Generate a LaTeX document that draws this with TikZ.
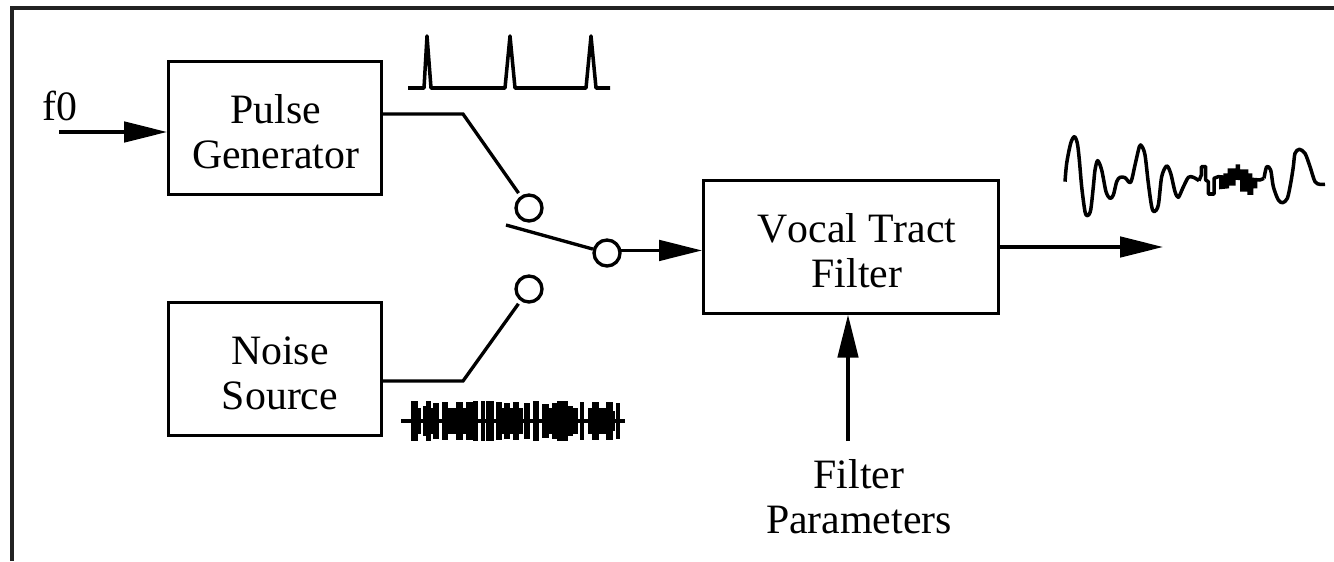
\documentclass[tikz,border=0pt]{standalone}
\usepackage{fontspec}
\setmainfont[Kerning=Off]{Liberation Serif}
\usetikzlibrary{positioning, arrows.meta}
\definecolor{framegray}{RGB}{34,34,34}
\newcommand{\lowered}{\rule{0pt}{20.5pt}}
\tikzset{
  block/.style={
    draw=black, line width=1.7pt, align=center, inner sep=0pt,
    font=\fontsize{23.8}{25.5}\selectfont,
    minimum width=4.26cm, minimum height=2.65cm
  },
  label/.style={
    align=center, inner sep=0pt, font=\fontsize{23.8}{25.5}\selectfont
  },
  switch/.style={
    circle, draw=black, line width=1.9pt, fill=white, inner sep=0pt, minimum size=0.52cm
  },
  arrow/.style={-{Triangle[length=0.86cm, width=0.41cm]}, line width=1.9pt},
  wire/.style={line width=1.9pt},
  wave/.style={line width=2pt, line join=round}
}

\begin{document}
\begin{tikzpicture}[x=0.02cm, y=-0.02cm]
  \useasboundingbox (0,0) rectangle (1334,561);
  \draw[framegray, line width=2.3pt] (12,561) -- (12,8) -- (1334,8);

  \node[block] (pulse) at (275,128) {\lowered\hspace*{0.03cm}Pulse\\\hspace*{0.03cm}Generator};
  \node[block, below=2.11cm of pulse] (noise) {\lowered\hspace*{0.2cm}Noise\\\hspace*{0.2cm}Source};
  \node[block, minimum width=5.9cm] (vocal) at (851,247) {\lowered\hspace*{0.24cm}Vocal Tract\\\hspace*{0.24cm}Filter};
  \node[label, anchor=base west] (f0) at (42,120) {f0};
  \node[label] (params) at (859,497) {Filter\\Parameters};

  \node[switch] (top) at (529,208) {};
  \node[switch] (bottom) at (529,289) {};
  \node[switch] (out) at (607,253) {};

  \coordinate (f0in) at (59,132);
  \coordinate (pulsebend) at (463,114);
  \coordinate (noisebend) at (463,381);
  \coordinate (armend) at (506,225);
  \coordinate (outend) at (1163,247);
  \coordinate (paramsin) at (848,441);

  \draw[arrow] (f0in) -- (f0in -| pulse.west);
  \draw[wire, shorten >=2pt] (pulsebend -| pulse.east) -- (pulsebend) -- (top);
  \draw[wire, shorten >=2pt] (noisebend -| noise.east) -- (noisebend) -- (bottom);
  \draw[wire] (armend) -- (out);
  \draw[arrow] (out.10) -- (out.10 -| vocal.west);
  \draw[arrow] (outend -| vocal.east) -- (outend);
  \draw[arrow] (paramsin) -- (paramsin |- vocal.south);

  % pulse train
  \draw[wave] (408,88) -- (424,88) -- (427,36) -- (431,88) -- (505,88) -- (510,36) -- (515,88)
    -- (586,88) -- (591,36) -- (596,88) -- (610,88);

  % noise burst, zoomed units
  \begin{scope}[shift={(390,380)}, x=0.00667cm, y=-0.00667cm]
    \draw[line width=1.9pt] (33,123) -- (704,123);
    \foreach \a/\b/\h in {65/80/60, 80/90/40, 103/110/45, 110/120/60, 120/133/40, 133/145/55,
      160/172/58, 172/200/38, 200/215/58, 215/232/38, 232/245/58, 245/252/35, 252/262/60,
      275/283/60, 292/308/60, 322/332/58, 332/345/38, 345/358/55, 358/372/38, 372/385/58,
      385/395/40, 405/418/55, 432/445/60, 460/475/50, 475/490/38, 490/505/55, 505/530/60,
      530/545/45, 545/560/38, 572/580/58, 597/610/40, 610/625/58, 625/650/40, 650/665/58,
      665/672/30, 680/688/55}
      \fill (\a-3,123-\h) rectangle (\b+3,123+\h);
  \end{scope}

  % output waveform, zoomed units
  \begin{scope}[shift={(1040,120)}, x=0.00667cm, y=-0.00667cm]
    \draw[wave] plot[smooth, tension=0.5] coordinates {(75,185) (80,130) (92,70) (103,50) (112,70)
      (118,120) (125,200) (135,275) (143,287) (152,270) (160,200) (165,150) (173,122) (185,150)
      (198,215) (210,235) (220,225) (230,185) (240,172) (255,173) (272,187) (285,135) (298,80)
      (305,78) (315,105) (325,190) (335,260) (343,275) (355,255) (365,170) (380,138) (392,160)
      (405,215) (415,232) (428,205) (445,172) (460,172) (477,182)};
    \draw[wave] (477,182) -- (484,165) -- (484,140) -- (497,140) -- (497,180) -- (505,185)
      -- (505,222) -- (522,222) -- (522,175) -- (535,170) -- (660,180) -- (672,175);
    \fill (537,172) -- (550,172) -- (550,160) -- (563,160) -- (563,145) -- (587,145) -- (587,133)
      -- (600,133) -- (600,148) -- (625,148) -- (625,160) -- (637,160) -- (637,175) -- (652,175)
      -- (652,205) -- (640,205) -- (640,225) -- (622,225) -- (622,215) -- (600,215) -- (600,178)
      -- (587,178) -- (587,197) -- (567,197) -- (567,205) -- (537,208) -- cycle;
    \draw[wave] plot[smooth, tension=0.5] coordinates {(672,175) (680,140) (692,150) (700,200)
      (715,240) (728,248) (742,235) (752,190) (760,140) (765,100) (778,88) (795,100) (810,140)
      (825,185) (840,193) (855,193)};
  \end{scope}
\end{tikzpicture}
\end{document}
